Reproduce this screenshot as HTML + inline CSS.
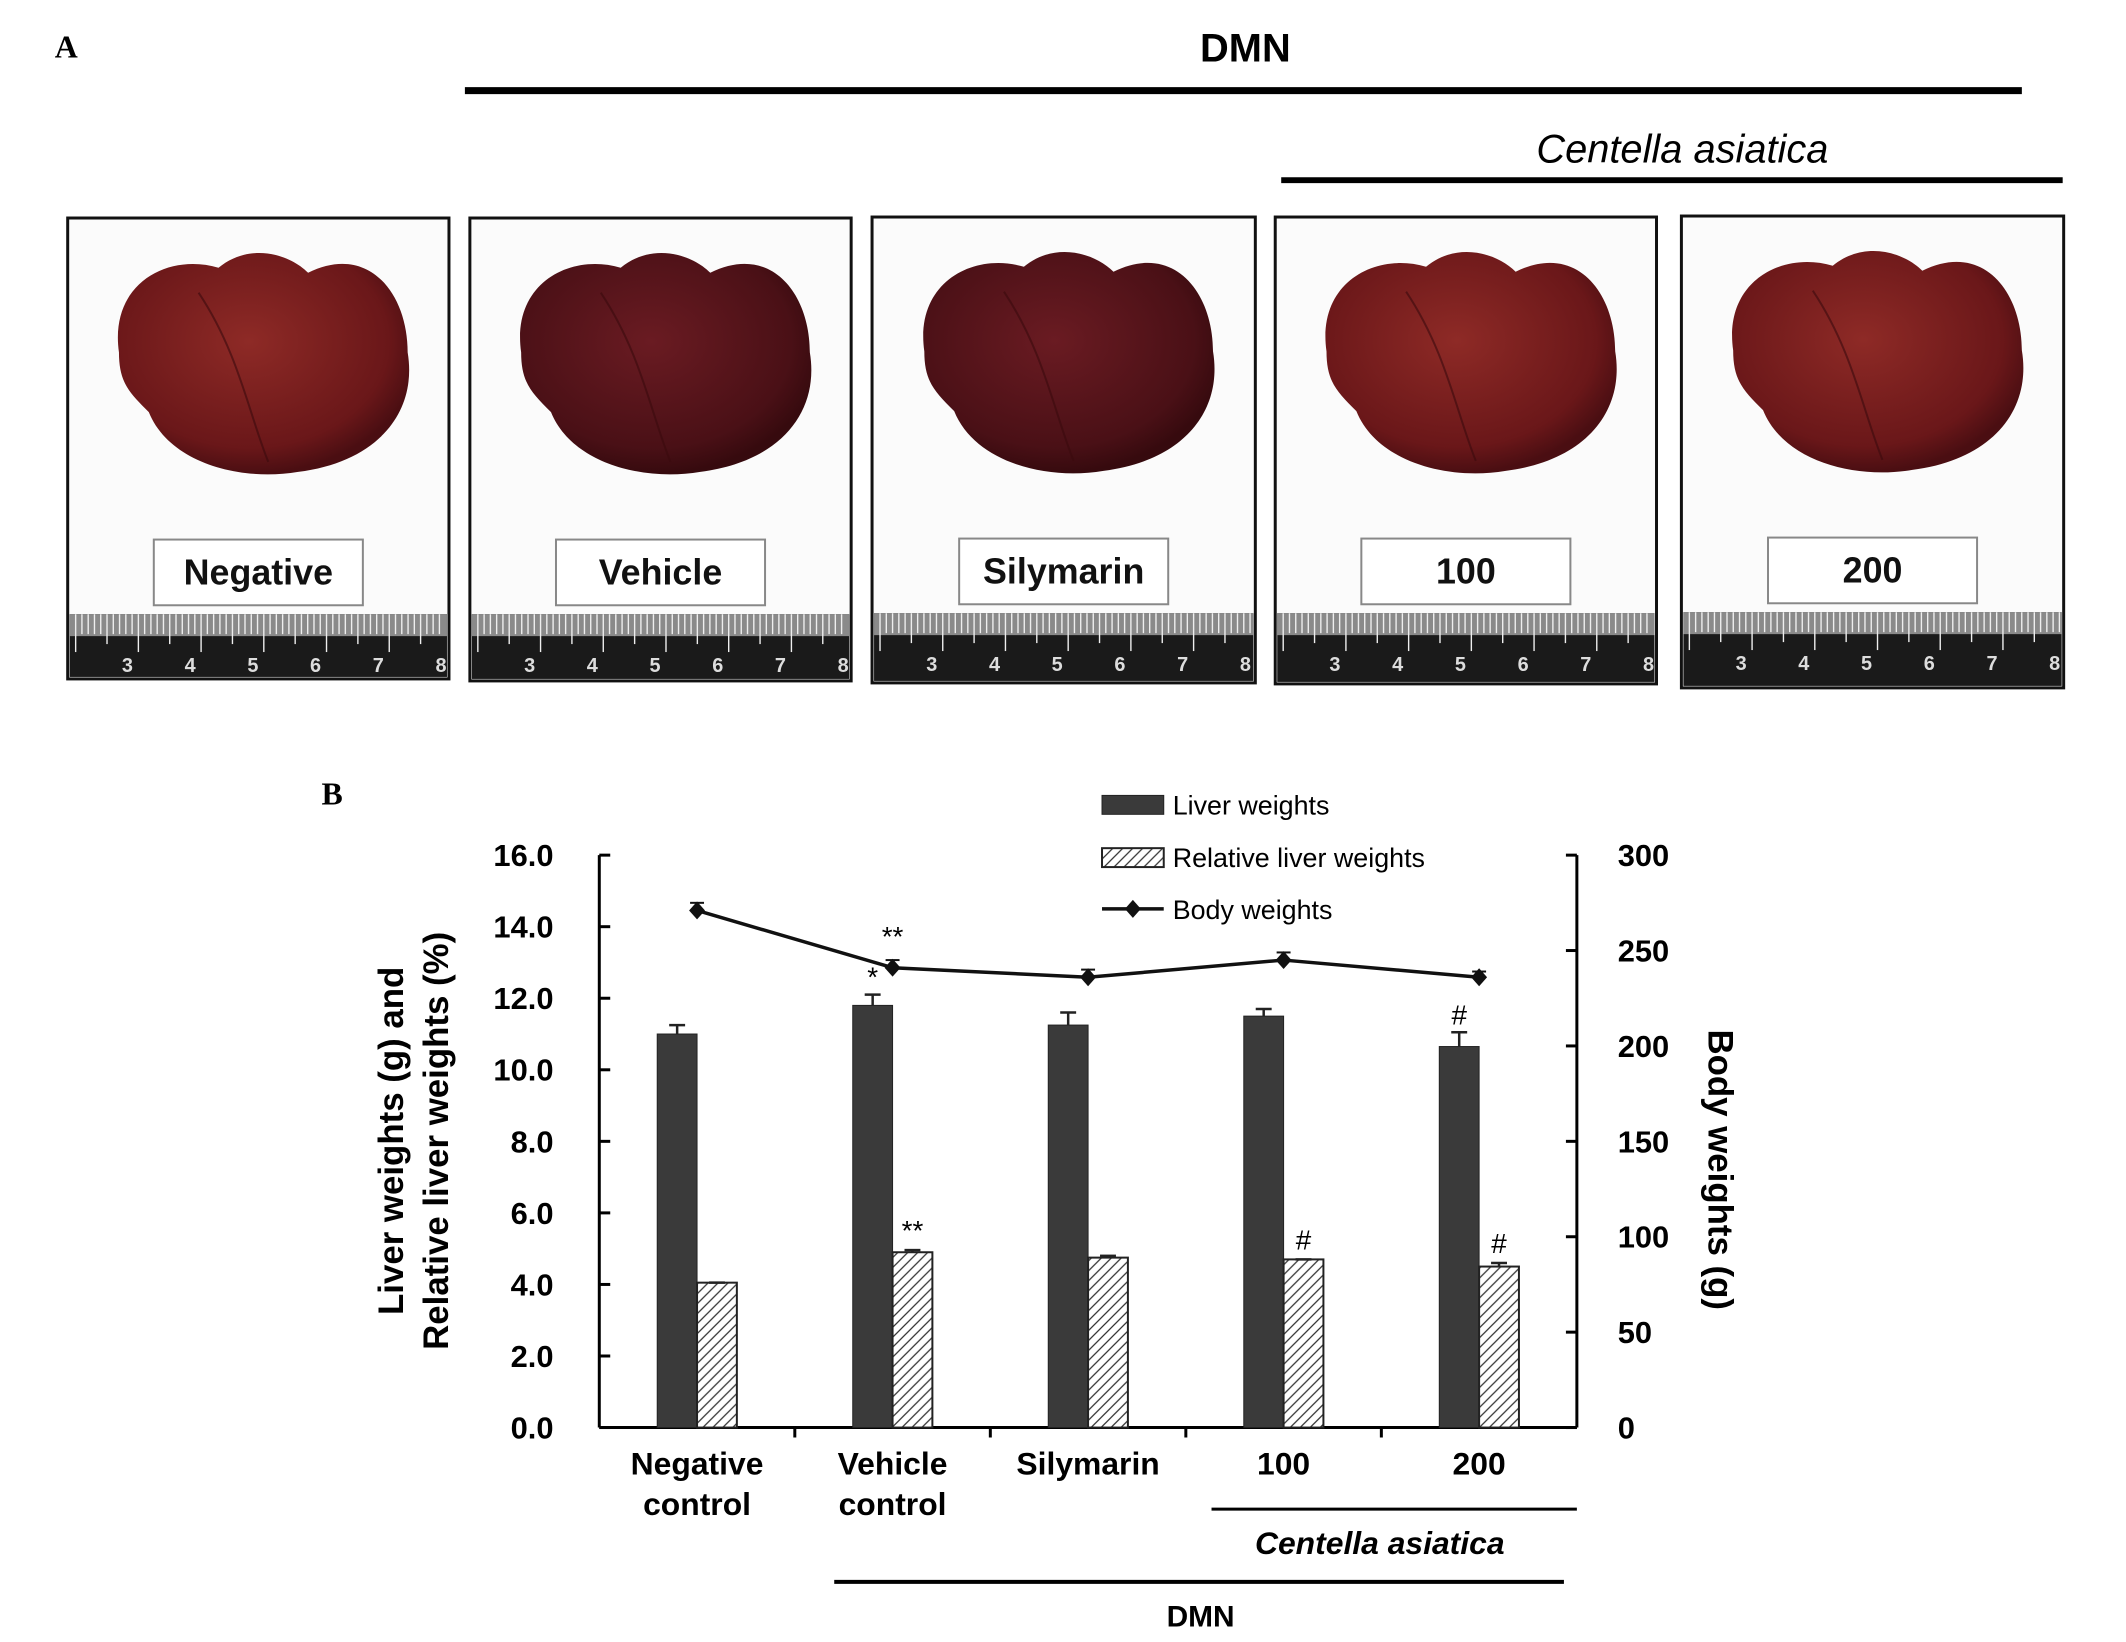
<!DOCTYPE html>
<html><head><meta charset="utf-8"><style>
html,body{margin:0;padding:0;background:#fff;}
svg{display:block;}
text{font-family:"Liberation Sans",sans-serif;}
</style></head><body>
<svg id="fig" width="2126" height="1642" viewBox="0 0 2126 1642" xmlns="http://www.w3.org/2000/svg">
<defs>
<pattern id="hatch" width="10" height="10" patternUnits="userSpaceOnUse">
<rect width="10" height="10" fill="#fff"/>
<path d="M0,10 L10,0 M-2,2 L2,-2 M8,12 L12,8" stroke="#333" stroke-width="1.3"/>
</pattern>
<radialGradient id="liverA" cx="45%" cy="40%" r="60%"><stop offset="0" stop-color="#8e2a26"/><stop offset="0.8" stop-color="#6a1719"/><stop offset="1" stop-color="#4a0e12"/></radialGradient>
<radialGradient id="liverB" cx="45%" cy="40%" r="60%"><stop offset="0" stop-color="#6a1b22"/><stop offset="0.8" stop-color="#4a1016"/><stop offset="1" stop-color="#360a0e"/></radialGradient>
</defs>
<g transform="scale(0.9955)">
<text x="55" y="58" font-weight="bold" font-size="32" style="font-family:'Liberation Serif',serif">A</text>
<text x="1251" y="62" text-anchor="middle" font-weight="bold" font-size="40">DMN</text>
<line x1="467" y1="91" x2="2031" y2="91" stroke="#000" stroke-width="7"/>
<text x="1690" y="163" text-anchor="middle" font-style="italic" font-size="40">Centella asiatica</text>
<line x1="1287" y1="181" x2="2072" y2="181" stroke="#000" stroke-width="6"/>
<g id="photos"></g>

<text x="323" y="808" font-weight="bold" font-size="32" style="font-family:'Liberation Serif',serif">B</text>
<g id="chart"></g>
</g>
</svg>
<script>
const NS="http://www.w3.org/2000/svg";
function mk(p,tag,attrs,txt){const e=document.createElementNS(NS,tag);for(const k in attrs)e.setAttribute(k,attrs[k]);if(txt!==undefined)e.textContent=txt;p.appendChild(e);return e;}

// ---------- Panel A photos ----------
const photoLabels=["Negative","Vehicle","Silymarin","100","200"];
const photoBoxes=[[68,219,383,463],[472,219,383,465],[876,218,385,468],[1281,218,383,469],[1689,217,384,474]];
const photos=document.getElementById('photos');
photoLabels.forEach((lab,i)=>{
  const [x,y,w,h]=photoBoxes[i];
  const g=mk(photos,'g',{});
  
  
  mk(g,'rect',{x:x,y:y,width:w,height:h,fill:'#fbfbfb',stroke:'#111','stroke-width':3});
  const cx=x+w/2, cy=y+155;
  const fill=(i===1||i===2)?'url(#liverB)':'url(#liverA)';
  mk(g,'path',{d:`M${cx-140},${cy-20} C${cx-150},${cy-90} ${cx-90},${cy-120} ${cx-40},${cy-105} C${cx-10},${cy-130} ${cx+30},${cy-120} ${cx+50},${cy-100} C${cx+110},${cy-130} ${cx+150},${cy-80} ${cx+150},${cy-20} C${cx+160},${cy+40} ${cx+120},${cy+90} ${cx+40},${cy+100} C${cx-20},${cy+110} ${cx-90},${cy+90} ${cx-110},${cy+40} C${cx-130},${cy+20} ${cx-140},${cy+10} ${cx-140},${cy-20} Z`,fill:fill});
  mk(g,'path',{d:`M${cx-60},${cy-80} C${cx-20},${cy-20} ${cx-10},${cy+40} ${cx+10},${cy+90}`,stroke:'#3a0a0e','stroke-width':2,fill:'none',opacity:0.6});
  const lb=mk(g,'rect',{x:cx-105,y:y+323,width:210,height:66,fill:'#fff',stroke:'#888','stroke-width':2});
  
  
  mk(g,'text',{x:cx,y:y+368,'text-anchor':'middle','font-weight':'bold','font-size':36,fill:'#111'},lab);
  const ry=y+398;
  mk(g,'rect',{x:x+2,y:ry,width:w-4,height:h-400,fill:'#1a1a1a'});
  mk(g,'rect',{x:x+2,y:ry,width:w-4,height:22,fill:'#8a8a8a'});
  for(let t=0;t<60;t++){const tx=x+8+t*6.3; if(tx>x+w-4)break; const len=(t%10===0)?38:(t%5===0?30:20); mk(g,'line',{x1:tx,y1:ry,x2:tx,y2:ry+len,stroke:'#eee','stroke-width':1.4});}
  for(let n=3;n<=8;n++){mk(g,'text',{x:x+60+(n-3)*63,y:ry+58,'text-anchor':'middle','font-weight':'bold','font-size':20,fill:'#ddd'},String(n));}
});

// ---------- Panel B chart ----------
const categories=[["Negative","control"],["Vehicle","control"],["Silymarin"],["100"],["200"]];
const liverWeights=[11.0,11.8,11.25,11.5,10.65];
const liverErr=[0.25,0.3,0.35,0.2,0.4];
const relWeights=[4.05,4.9,4.75,4.7,4.5];
const relErr=[0.0,0.06,0.05,0.0,0.1];
const bodyWeights=[271,241,236,245,236];
const bodyErr=[4,4,4,4,3];
const leftTicks=[0,2,4,6,8,10,12,14,16];
const rightTicks=[0,50,100,150,200,250,300];
const liverMarks=["","*","","","#"];
const relMarks=["","**","","#","#"];
const bodyMarks=["","**","","",""];

const X0=602,X1=1584,Y0=1434,Y1=859;
const yL=v=>Y0-(v/16)*(Y0-Y1);
const yR=v=>Y0-(v/300)*(Y0-Y1);
const bandW=(X1-X0)/categories.length;
const xC=i=>X0+bandW*(i+0.5);
const BW=40;
const ch=document.getElementById('chart');

const ax=mk(ch,'g',{stroke:'#000','stroke-width':3});


mk(ax,'line',{x1:X0,y1:Y1,x2:X0,y2:Y0});
mk(ax,'line',{x1:X1,y1:Y1,x2:X1,y2:Y0});
mk(ax,'line',{x1:X0,y1:Y0,x2:X1,y2:Y0});
for(let i=1;i<categories.length;i++){mk(ax,'line',{x1:X0+bandW*i,y1:Y0,x2:X0+bandW*i,y2:Y0+10});}

leftTicks.forEach(v=>{
  mk(ch,'line',{x1:X0,y1:yL(v),x2:X0+11,y2:yL(v),stroke:'#000','stroke-width':3});
  const t=mk(ch,'text',{x:556,y:yL(v)+11,'text-anchor':'end','font-weight':'bold','font-size':31},v.toFixed(1));
  
  
});
rightTicks.forEach(v=>{
  mk(ch,'line',{x1:X1-11,y1:yR(v),x2:X1,y2:yR(v),stroke:'#000','stroke-width':3});
  const t=mk(ch,'text',{x:1625,y:yR(v)+11,'text-anchor':'start','font-weight':'bold','font-size':31},String(v));
  
  
});

const lt=mk(ch,'text',{transform:'translate(405,1146) rotate(-90)','text-anchor':'middle','font-weight':'bold','font-size':35},'Liver weights (g) and');


const lt2=mk(ch,'text',{transform:'translate(450,1146) rotate(-90)','text-anchor':'middle','font-weight':'bold','font-size':35},'Relative liver weights (%)');


const rt=mk(ch,'text',{transform:'translate(1716,1175) rotate(90)','text-anchor':'middle','font-weight':'bold','font-size':35},'Body weights (g)');



categories.forEach((c,i)=>{
  const cx=xC(i);
  const b=mk(ch,'rect',{x:cx-BW,y:yL(liverWeights[i]),width:BW,height:Y0-yL(liverWeights[i]),fill:'#3a3a3a',stroke:'#222','stroke-width':1});
  
  
  const eT=yL(liverWeights[i]+liverErr[i]);
  mk(ch,'line',{x1:cx-BW/2,y1:yL(liverWeights[i]),x2:cx-BW/2,y2:eT,stroke:'#222','stroke-width':2.5});
  mk(ch,'line',{x1:cx-BW/2-8,y1:eT,x2:cx-BW/2+8,y2:eT,stroke:'#222','stroke-width':2.5});
  const h=mk(ch,'rect',{x:cx,y:yL(relWeights[i]),width:BW,height:Y0-yL(relWeights[i]),fill:'url(#hatch)',stroke:'#222','stroke-width':2});
  
  
  const rT=yL(relWeights[i]+relErr[i]);
  mk(ch,'line',{x1:cx+BW/2,y1:yL(relWeights[i]),x2:cx+BW/2,y2:rT,stroke:'#222','stroke-width':2.5});
  mk(ch,'line',{x1:cx+BW/2-8,y1:rT,x2:cx+BW/2+8,y2:rT,stroke:'#222','stroke-width':2.5});
  if(liverMarks[i]){const m=mk(ch,'text',{x:cx-BW/2,y:eT-8,'text-anchor':'middle','font-size':28},liverMarks[i]);}
  if(relMarks[i]){const m=mk(ch,'text',{x:cx+BW/2,y:rT-10,'text-anchor':'middle','font-size':28},relMarks[i]);}
  c.forEach((ln,k)=>{const t=mk(ch,'text',{x:cx,y:1481+k*41,'text-anchor':'middle','font-weight':'bold','font-size':32},ln);});
});

const pts=bodyWeights.map((v,i)=>xC(i)+','+yR(v)).join(' ');
const pl=mk(ch,'polyline',{points:pts,fill:'none',stroke:'#111','stroke-width':3.5});


bodyWeights.forEach((v,i)=>{
  const x=xC(i),y=yR(v);
  mk(ch,'line',{x1:x,y1:yR(v+bodyErr[i]),x2:x,y2:yR(v-bodyErr[i]),stroke:'#111','stroke-width':2});
  mk(ch,'line',{x1:x-7,y1:yR(v+bodyErr[i]),x2:x+7,y2:yR(v+bodyErr[i]),stroke:'#111','stroke-width':2});
  const d=mk(ch,'path',{d:`M${x},${y-9} L${x+8},${y} L${x},${y+9} L${x-8},${y} Z`,fill:'#111'});
  
  
  if(bodyMarks[i]){const m=mk(ch,'text',{x:x,y:yR(v+bodyErr[i])-14,'text-anchor':'middle','font-size':28},bodyMarks[i]);}
});

const cl=mk(ch,'line',{x1:1217,y1:1516,x2:1584,y2:1516,stroke:'#000','stroke-width':3});


const ct=mk(ch,'text',{x:1386,y:1561,'text-anchor':'middle','font-style':'italic','font-weight':'bold','font-size':32},'Centella asiatica');


const dl=mk(ch,'line',{x1:838,y1:1589,x2:1571,y2:1589,stroke:'#000','stroke-width':4});


const dt=mk(ch,'text',{x:1206,y:1634,'text-anchor':'middle','font-weight':'bold','font-size':30},'DMN');



const lg=mk(ch,'g',{});


mk(lg,'rect',{x:1107,y:799,width:62,height:19,fill:'#3a3a3a',stroke:'#222'});
mk(lg,'text',{x:1178,y:818,'font-size':27},'Liver weights');
mk(lg,'rect',{x:1107,y:852,width:62,height:19,fill:'url(#hatch)',stroke:'#222','stroke-width':2});
mk(lg,'text',{x:1178,y:871,'font-size':27},'Relative liver weights');
mk(lg,'line',{x1:1107,y1:913,x2:1169,y2:913,stroke:'#111','stroke-width':3.5});
mk(lg,'path',{d:'M1138,904 L1146,913 L1138,922 L1130,913 Z',fill:'#111'});
mk(lg,'text',{x:1178,y:923,'font-size':27},'Body weights');
</script>
</body></html>
